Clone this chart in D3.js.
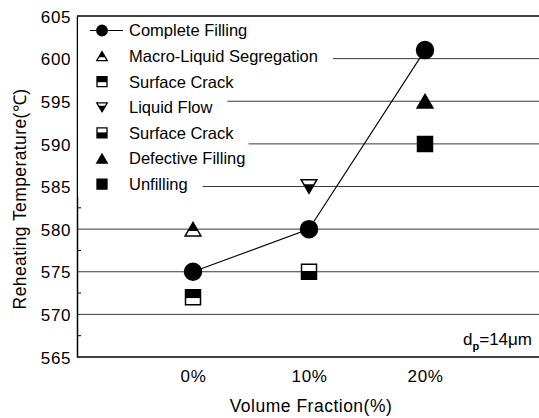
<!DOCTYPE html>
<meta charset="utf-8">
<script src="https://d3js.org/d3.v7.min.js"></script>
<style>
  body { margin: 0; background: #fff; }
  text { font-family: "Liberation Sans", Arial, sans-serif; fill: #000; }
</style>
<body>
<div id="chart"></div>
<script>
    // x categories (volume fraction, %) and y ticks
    var fractions = [0, 10, 20];
    var xTickLabels = ["0%", "10%", "20%"];
    var yTicks = [565, 570, 575, 580, 585, 590, 595, 600, 605];

    // series values
    var completeX = [0, 10, 20],  completeY = [575, 580, 601];
    var macroX = [0],             macroY = [580];
    var crackAX = [0],            crackAY = [572];
    var flowX = [10],             flowY = [585];
    var crackBX = [10],           crackBY = [575];
    var defectX = [20],           defectY = [595];
    var unfillX = [20],           unfillY = [590];

    var legendNames = ["Complete Filling", "Macro-Liquid Segregation", "Surface Crack",
        "Liquid Flow", "Surface Crack", "Defective Filling", "Unfilling"];

    var width = 539, height = 418;
    var margin = { top: 16, right: -2, bottom: 61, left: 78 };

    var svg = d3.select("#chart").append("svg")
        .attr("width", width)
        .attr("height", height);

    var x = d3.scaleLinear().domain([-10, 30]).range([margin.left - 1, width - margin.right]);
    var y = d3.scaleLinear().domain([565, 605]).range([height - margin.bottom, margin.top]);

    // outline of a marker, s = size in px
    function shapePath(kind, s) {
        var h = s / 2, a = h * 0.9, b = h * 1.05;
        if (kind == "circle") return d3.symbol().type(d3.symbolCircle).size(Math.PI * h * h)();
        if (kind == "square") return "M" + (-h) + "," + (-h) + "H" + h + "V" + h + "H" + (-h) + "Z";
        if (kind == "up") return "M0," + (-a) + "L" + b + "," + a + "H" + (-b) + "Z";
        if (kind == "down") return "M0," + a + "L" + b + "," + (-a) + "H" + (-b) + "Z";
    }
    // black part of a half filled marker
    function partPath(kind, part, s) {
        var h = s / 2, a = h * 0.9, b = h * 1.05, f, yy;
        if (part == "top" && kind == "square") { yy = -h + s * 0.55; return "M" + (-h) + "," + (-h) + "H" + h + "V" + yy + "H" + (-h) + "Z"; }
        if (part == "bottom" && kind == "square") { yy = -h + s * 0.45; return "M" + (-h) + "," + yy + "H" + h + "V" + h + "H" + (-h) + "Z"; }
        if (kind == "up") { f = 0.64; yy = -a + 2 * a * f; return "M0," + (-a) + "L" + (b * f) + "," + yy + "H" + (-b * f) + "Z"; }
        if (kind == "down") { f = 0.66; yy = a - 2 * a * f; return "M0," + a + "L" + (b * f) + "," + yy + "H" + (-b * f) + "Z"; }
        return null;
    }

    var styles = [
        { kind: "circle", part: "all" },
        { kind: "up", part: "top" },
        { kind: "square", part: "top" },
        { kind: "down", part: "bottom" },
        { kind: "square", part: "bottom" },
        { kind: "up", part: "all" },
        { kind: "square", part: "all" }
    ];

    function drawMarker(sel, st, s, sw) {
        sel.append("path")
            .attr("d", shapePath(st.kind, s))
            .attr("fill", st.part == "all" ? "#000" : "#fff")
            .attr("stroke", "#000")
            .attr("stroke-width", sw)
            .attr("stroke-linejoin", "miter");
        if (st.part != "all") {
            sel.append("path").attr("d", partPath(st.kind, st.part, s)).attr("fill", "#000");
        }
    }

    // grid lines
    svg.append("g").selectAll("line")
        .data(yTicks.filter(function(d) { return d > 565 && d < 605; }))
        .enter().append("line")
        .attr("x1", x(-10)).attr("x2", width)
        .attr("y1", function(d) { return y(d); })
        .attr("y2", function(d) { return y(d); })
        .attr("stroke", "#3a3a3a")
        .attr("stroke-width", 1);

    // frame: left axis, top, bottom
    svg.append("line").attr("x1", x(-10)).attr("x2", width).attr("y1", y(605)).attr("y2", y(605))
        .attr("stroke", "#000").attr("stroke-width", 1.3);
    svg.append("line").attr("x1", x(-10)).attr("x2", width).attr("y1", y(565)).attr("y2", y(565))
        .attr("stroke", "#000").attr("stroke-width", 1.5);

    var yAxis = svg.append("g")
        .attr("transform", "translate(" + x(-10) + ",0)")
        .call(d3.axisLeft(y).tickValues(yTicks).tickSize(0).tickPadding(6));
    yAxis.select(".domain").attr("stroke", "#000").attr("stroke-width", 1.5);
    yAxis.selectAll("text").attr("font-size", 17).attr("dy", "0.36em")
        .style("font-family", "'Liberation Sans', Arial, sans-serif").attr("letter-spacing", 0.6);

    // minor ticks inside
    svg.append("g").selectAll("line")
        .data(d3.range(567.5, 605, 5))
        .enter().append("line")
        .attr("x1", x(-10)).attr("x2", x(-10) + 4)
        .attr("y1", function(d) { return y(d); })
        .attr("y2", function(d) { return y(d); })
        .attr("stroke", "#000");

    // x tick labels
    var xAxis = svg.append("g")
        .attr("transform", "translate(0," + y(565) + ")")
        .call(d3.axisBottom(x).tickValues(fractions)
            .tickFormat(function(d, i) { return xTickLabels[i]; })
            .tickSize(0).tickPadding(13));
    xAxis.select(".domain").remove();
    xAxis.selectAll("text").attr("font-size", 17).attr("letter-spacing", 0.6)
        .style("font-family", "'Liberation Sans', Arial, sans-serif");

    // axis titles
    svg.append("text")
        .attr("x", 311).attr("y", 412)
        .attr("text-anchor", "middle")
        .attr("font-size", 17.5)
        .attr("letter-spacing", 0.5)
        .text("Volume Fraction(%)");

    svg.append("text")
        .attr("transform", "translate(26,199) rotate(-90)")
        .attr("text-anchor", "middle")
        .attr("font-size", 17.5)
        .attr("letter-spacing", 0.4)
        .text("Reheating Temperature(\u2103)");

    // d_p label
    var dp = svg.append("text").attr("x", 532).attr("y", 345).attr("text-anchor", "end").attr("font-size", 17);
    dp.append("tspan").text("d");
    dp.append("tspan").attr("font-size", 11).attr("font-weight", "bold").attr("dy", 5).text("p");
    dp.append("tspan").attr("dy", -5).text("=14\u03bcm");

    // legend rows with white backgrounds
    var legend = svg.append("g");
    var rowY = function(i) { return 30.5 + i * 25.6; };
    var rows = legend.selectAll("g").data(legendNames).enter().append("g");
    var bg = rows.append("rect").attr("fill", "#fff");
    var labels = rows.append("text")
        .attr("x", 129)
        .attr("y", function(d, i) { return rowY(i); })
        .attr("dy", "0.36em")
        .attr("font-size", 16.5)
        .text(function(d) { return d; });
    bg.attr("x", x(-10) + 1)
        .attr("y", function(d, i) { return rowY(i) - 12.8; })
        .attr("height", 25.6)
        .attr("width", function(d, i) {
            return 129 + labels.nodes()[i].getComputedTextLength() + 15 - x(-10) - 1;
        });
    legend.append("line").attr("x1", 90).attr("x2", 123).attr("y1", rowY(0)).attr("y2", rowY(0))
        .attr("stroke", "#000").attr("stroke-width", 1.2);
    rows.each(function(d, i) {
        var g = d3.select(this).append("g").attr("transform", "translate(102," + rowY(i) + ")");
        drawMarker(g, styles[i], styles[i].kind == "circle" ? 10.5 : 10, 1.3);
    });

    // complete filling line
    var complete = completeX.map(function(v, i) { return { x: v, y: completeY[i] }; });
    svg.append("path")
        .datum(complete)
        .attr("fill", "none")
        .attr("stroke", "#000")
        .attr("stroke-width", 1.1)
        .attr("d", d3.line().x(function(d) { return x(d.x); }).y(function(d) { return y(d.y); }));

    // markers
    var series = [
        [completeX, completeY], [macroX, macroY], [crackAX, crackAY], [flowX, flowY],
        [crackBX, crackBY], [defectX, defectY], [unfillX, unfillY]
    ];
    series.forEach(function(s, k) {
        var pts = s[0].map(function(v, i) { return { x: v, y: s[1][i] }; });
        svg.append("g").selectAll("g").data(pts).enter().append("g")
            .attr("transform", function(d) { return "translate(" + x(d.x) + "," + y(d.y) + ")"; })
            .each(function() {
                drawMarker(d3.select(this), styles[k], styles[k].kind == "circle" ? 17 : 15, 1.5);
            });
    });
</script>
</body>
